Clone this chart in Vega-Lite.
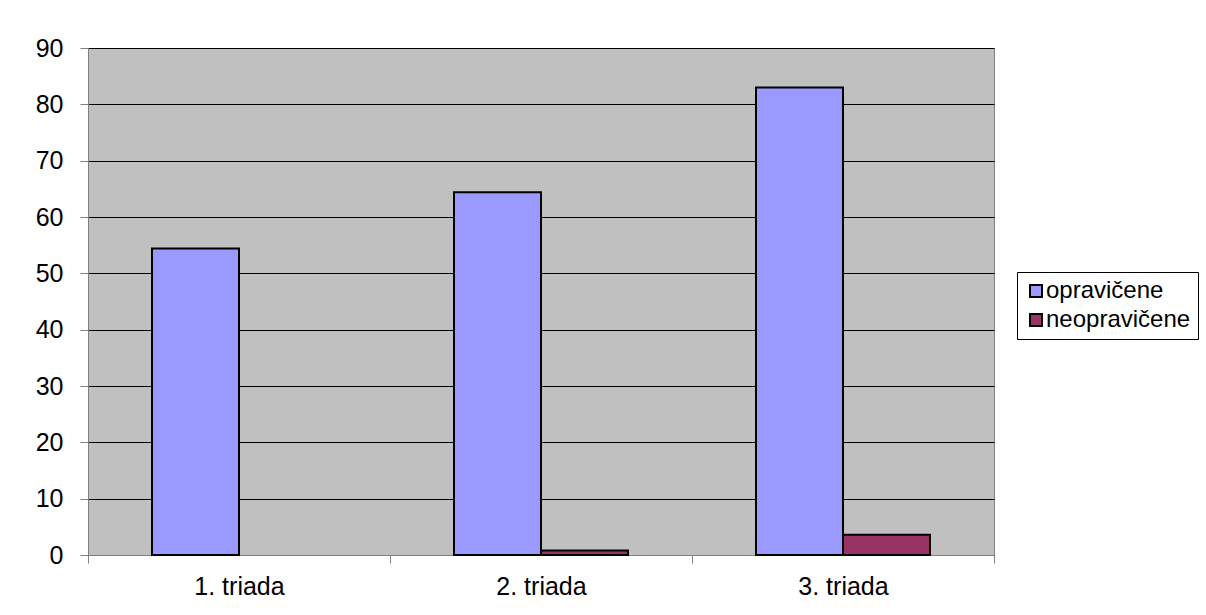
{
  "$schema": "https://vega.github.io/schema/vega-lite/v6.json",
  "width": 906,
  "height": 507,
  "autosize": {"type": "none"},
  "padding": {"left": 88, "top": 48, "right": 212, "bottom": 60},
  "background": "white",
  "data": {
    "values": [
      {"triada": "1. triada", "vrsta": "opravičene", "vrednost": 54.4},
      {"triada": "2. triada", "vrsta": "opravičene", "vrednost": 64.4},
      {"triada": "2. triada", "vrsta": "neopravičene", "vrednost": 0.8},
      {"triada": "3. triada", "vrsta": "opravičene", "vrednost": 83.0},
      {"triada": "3. triada", "vrsta": "neopravičene", "vrednost": 3.6}
    ]
  },
  "mark": {"type": "bar", "stroke": "black", "strokeWidth": 2},
  "encoding": {
    "x": {
      "field": "triada",
      "type": "nominal",
      "sort": ["1. triada", "2. triada", "3. triada"],
      "scale": {"paddingInner": 0, "paddingOuter": 0},
      "axis": {
        "title": null,
        "labelAngle": 0,
        "labelFont": "Liberation Sans",
        "labelFontSize": 25,
        "labelColor": "black",
        "labelPadding": 11,
        "tickBand": "extent",
        "tickSize": 8,
        "tickColor": "#808080",
        "domainColor": "#808080",
        "grid": false
      }
    },
    "xOffset": {
      "field": "vrsta",
      "type": "nominal",
      "sort": ["opravičene", "neopravičene"],
      "scale": {"domain": ["opravičene", "neopravičene"], "paddingInner": 0, "paddingOuter": 0.7356}
    },
    "y": {
      "field": "vrednost",
      "type": "quantitative",
      "scale": {"domain": [0, 90], "nice": false},
      "axis": {
        "title": null,
        "values": [0, 10, 20, 30, 40, 50, 60, 70, 80, 90],
        "labelFont": "Liberation Sans",
        "labelFontSize": 25,
        "labelColor": "black",
        "labelPadding": 17,
        "tickSize": 8,
        "tickColor": "#808080",
        "domainColor": "#808080",
        "grid": true,
        "gridColor": "black",
        "gridWidth": 1,
        "gridOpacity": 1
      }
    },
    "color": {
      "field": "vrsta",
      "type": "nominal",
      "sort": ["opravičene", "neopravičene"],
      "scale": {"domain": ["opravičene", "neopravičene"], "range": ["#9999FF", "#993366"]},
      "legend": {
        "title": null,
        "orient": "none",
        "legendX": 929,
        "legendY": 224,
        "symbolType": "square",
        "symbolSize": 144,
        "symbolStrokeColor": "black",
        "symbolStrokeWidth": 2,
        "labelFont": "Liberation Sans",
        "labelFontSize": 24,
        "labelColor": "black",
        "labelOffset": -2,
        "rowPadding": 5,
        "strokeColor": "black",
        "fillColor": "white",
        "padding": 7
      }
    }
  },
  "config": {
    "view": {"fill": "#C0C0C0", "stroke": "#808080", "strokeWidth": 1}
  }
}
